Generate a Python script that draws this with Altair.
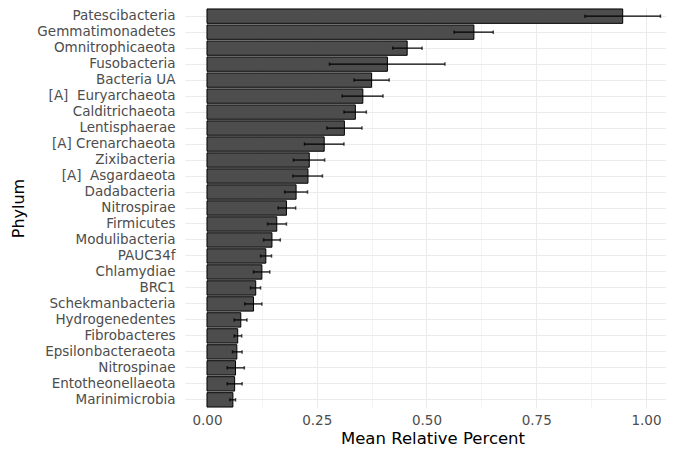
import altair as alt
import pandas as pd

phyla = ["Patescibacteria", "Gemmatimonadetes", "Omnitrophicaeota", "Fusobacteria",
         "Bacteria UA", "[A]\u00a0\u00a0Euryarchaeota", "Calditrichaeota", "Lentisphaerae",
         "[A] Crenarchaeota", "Zixibacteria", "[A]\u00a0\u00a0Asgardaeota", "Dadabacteria",
         "Nitrospirae", "Firmicutes", "Modulibacteria", "PAUC34f\u00a0\u2009", "Chlamydiae",
         "BRC1", "Schekmanbacteria", "Hydrogenedentes", "Fibrobacteres",
         "Epsilonbacteraeota", "Nitrospinae", "Entotheonellaeota", "Marinimicrobia"]
means = [0.947, 0.608, 0.456, 0.411, 0.375, 0.355, 0.338, 0.313, 0.267, 0.233, 0.230,
         0.203, 0.181, 0.159, 0.148, 0.134, 0.125, 0.111, 0.106, 0.077, 0.070, 0.068,
         0.065, 0.063, 0.059]
lo = [0.861, 0.563, 0.423, 0.279, 0.335, 0.308, 0.312, 0.273, 0.222, 0.197, 0.196,
      0.177, 0.162, 0.138, 0.129, 0.122, 0.106, 0.099, 0.086, 0.062, 0.062, 0.058,
      0.046, 0.046, 0.052]
hi = [1.033, 0.652, 0.490, 0.542, 0.415, 0.401, 0.363, 0.353, 0.312, 0.268, 0.263,
      0.229, 0.202, 0.181, 0.167, 0.147, 0.143, 0.122, 0.125, 0.091, 0.079, 0.080,
      0.085, 0.080, 0.065]
x_ticks = [0, 0.125, 0.25, 0.375, 0.5, 0.625, 0.75, 0.875, 1.0]

df = pd.DataFrame({"phylum": phyla, "mean": means, "lo": lo, "hi": hi})

FONT = "DejaVu Sans"
major_test = "(datum.value * 8) % 2 == 0"

xscale = alt.Scale(domain=[-0.0501, 1.0456], nice=False, zero=False)
xaxis = alt.Axis(
    values=x_ticks,
    labelExpr=f"{major_test} ? format(datum.value, '.2f') : ''",
    grid=True, gridColor="#ebebeb",
    gridWidth={"condition": {"test": major_test, "value": 1.1}, "value": 0.55},
    domain=False, ticks=False, labelPadding=5,
    labelFont=FONT, labelFontSize=13.5, labelColor="#4d4d4d",
    title="Mean Relative Percent", titleFont=FONT, titleFontSize=16.5,
    titleFontWeight="normal", titleColor="#000000",
    titleX=247.5, titleY=35, titleBaseline="alphabetic",
)
yscale = alt.Scale(paddingInner=0.1, paddingOuter=0.06)
yaxis = alt.Axis(
    grid=True, gridColor="#ebebeb", gridWidth=1.1,
    domain=False, ticks=False, labelPadding=10, labelLimit=300,
    labelFont=FONT, labelFontSize=13.5, labelColor="#4d4d4d",
    title="Phylum", titleFont=FONT, titleFontSize=16, titleFontWeight="normal",
    titleColor="#000000", titleX=-167, titleBaseline="middle",
)

y_enc = alt.Y("phylum:N", sort=phyla, scale=yscale, axis=yaxis)

bars = alt.Chart(df).mark_bar(fill="#4d4d4d", stroke="#000000", strokeWidth=1).encode(
    x=alt.X("mean:Q", scale=xscale, axis=xaxis),
    y=y_enc,
)
rules = alt.Chart(df).mark_rule(color="#000000", strokeWidth=1.2).encode(
    x=alt.X("lo:Q", scale=xscale, axis=xaxis),
    x2="hi:Q",
    y=y_enc,
)
cap_lo = alt.Chart(df).mark_tick(color="#000000", size=3.5, thickness=1.5).encode(
    x=alt.X("lo:Q", scale=xscale, axis=xaxis),
    y=y_enc,
)
cap_hi = alt.Chart(df).mark_tick(color="#000000", size=3.5, thickness=1.5).encode(
    x=alt.X("hi:Q", scale=xscale, axis=xaxis),
    y=y_enc,
)

chart = alt.layer(bars, rules, cap_lo, cap_hi).properties(
    width=481, height=400,
    autosize=alt.AutoSizeParams(type="none"),
    padding={"left": 177, "top": 0, "right": 0, "bottom": 38},
    background="#ffffff",
).configure_view(stroke=None)

chart.save("out.html", embed_options={"renderer": "svg", "actions": False})
